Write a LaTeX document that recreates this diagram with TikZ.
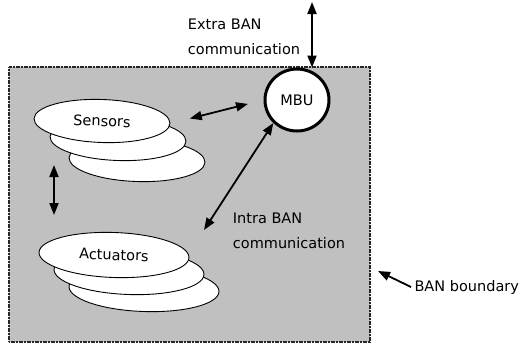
\documentclass[tikz,border=0pt]{standalone}
\usepackage{fontspec}
\setmainfont{DejaVu Sans}
\usetikzlibrary{arrows.meta,shapes.geometric}

\definecolor{bangray}{RGB}{192,192,192}
\tikzset{
  sensor/.style={ellipse, draw, fill=white, line width=0.9pt, rotate=-2, minimum width=136pt, minimum height=43pt},
  actuator/.style={ellipse, draw, fill=white, line width=0.9pt, rotate=-2, minimum width=150pt, minimum height=45pt},
  link/.style={{Triangle[length=12pt,width=9pt]}-{Triangle[length=12pt,width=9pt]}, line width=1.8pt},
  lbl/.style={align=left, font=\fontsize{14.5}{25}\selectfont},
}

\begin{document}
\begin{tikzpicture}[x=1pt,y=-1pt, font=\fontsize{14.5}{17}\selectfont]

  \useasboundingbox (0,0) rectangle (526,346);
  \draw[fill=bangray, draw=black!85, line width=1.2pt, dash pattern=on 1.2pt off 0.4pt] (9,67) rectangle (370,342);

  % stacks, back to front
  \node[sensor] (sens3) at (137,160) {};
  \node[sensor] (sens2) at (118,139) {};
  \node[sensor] (sens1) at (102,121) {Sensors};

  \node[actuator] (act3) at (144,289) {};
  \node[actuator] (act2) at (129,272) {};
  \node[actuator] (act1) at (114,255) {Actuators};

  \node[ellipse, draw, line width=3pt, fill=white, minimum width=64pt, minimum height=62pt] (mbu) at (297,100) {MBU};

  \node[lbl] (extra) at (244,37) {Extra BAN\\communication};
  \node[lbl] (intra) at (289,231) {Intra BAN\\communication};
  \node[lbl, anchor=west] (bnd) at (411,287) {BAN boundary};

  \coordinate (up) at (312,2);
  \coordinate (sa top) at (54,165);
  \coordinate (sa bot) at (54,215);
  \coordinate (intra end) at (204,230);
  \coordinate (edge) at (378,271);

  \draw[link] (up) -- (up |- mbu.north);
  \draw[link, shorten <=20pt, shorten >=16pt] (sens1.east) -- (mbu.west);
  \draw[link] (sa top) -- (sa bot);
  \draw[link] (mbu.south west) -- (intra end);
  \draw[line width=1.8pt, -{Triangle[length=12pt,width=9pt]}] (bnd.west) -- (edge);

\end{tikzpicture}
\end{document}
